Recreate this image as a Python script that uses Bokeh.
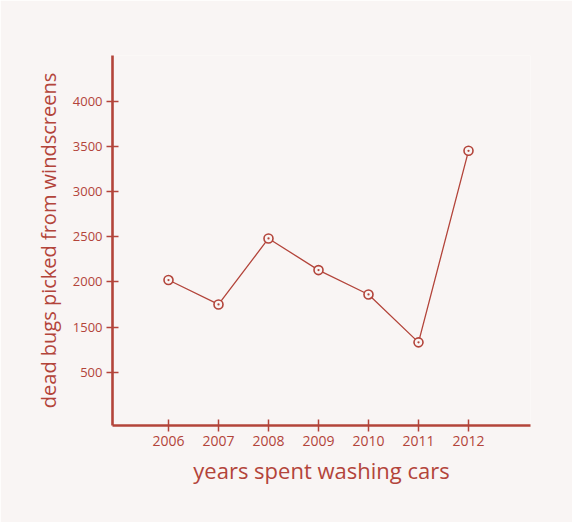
from bokeh.plotting import figure
from bokeh.models import FixedTicker, Range1d
from bokeh.embed import file_html
from bokeh.resources import INLINE

# data
years = [2006, 2007, 2008, 2009, 2010, 2011, 2012]
dead_bugs = [2020, 1750, 2480, 2130, 1860, 1330, 3450]
y_tick_values = [1000, 1500, 2000, 2500, 3000, 3500, 4000]
y_tick_labels = ["500", "1500", "2000", "2500", "3000", "3500", "4000"]
x_label = "years spent washing cars"
y_label = "dead bugs picked from windscreens"

INK = "#b3443a"
BG = "#f9f5f4"
FONT = "Open Sans"

p = figure(width=572, height=522, output_backend="svg", toolbar_location=None,
           x_range=Range1d(2004.88, 2013.24), y_range=Range1d(410, 4505),
           min_border_left=112, min_border_top=55, min_border_right=42,
           min_border_bottom=97)
p.background_fill_color = BG
p.border_fill_color = BG
p.outline_line_color = None
p.grid.visible = False

p.line(years, dead_bugs, line_color=INK, line_width=1.3)
p.scatter(years, dead_bugs, marker="circle_dot", size=9, fill_color=BG,
          line_color=INK, line_width=1.6)

for ax in (p.xaxis[0], p.yaxis[0]):
    ax.axis_line_color = INK
    ax.axis_line_width = 2.6
    ax.major_tick_line_color = INK
    ax.major_tick_line_width = 1.5
    ax.major_tick_in = 6
    ax.major_tick_out = 6
    ax.minor_tick_line_color = None
    ax.major_label_text_color = INK
    ax.major_label_text_font = FONT
    ax.axis_label_text_color = INK
    ax.axis_label_text_font = FONT
    ax.axis_label_text_font_style = "normal"

p.xaxis.ticker = FixedTicker(ticks=years)
p.xaxis.major_label_text_font_size = "14px"
p.xaxis.major_label_standoff = 4
p.xaxis.axis_label = x_label
p.xaxis.axis_label_text_font_size = "22px"
p.xaxis.axis_label_standoff = 6

p.yaxis.ticker = FixedTicker(ticks=y_tick_values)
p.yaxis.major_label_overrides = {v: l for v, l in zip(y_tick_values, y_tick_labels)}
p.yaxis.major_label_text_font_size = "13px"
p.yaxis.major_label_standoff = 4
p.yaxis.axis_label = y_label
p.yaxis.axis_label_text_font_size = "20px"
p.yaxis.axis_label_standoff = 8

open("out.html", "w").write(file_html(p, INLINE))
